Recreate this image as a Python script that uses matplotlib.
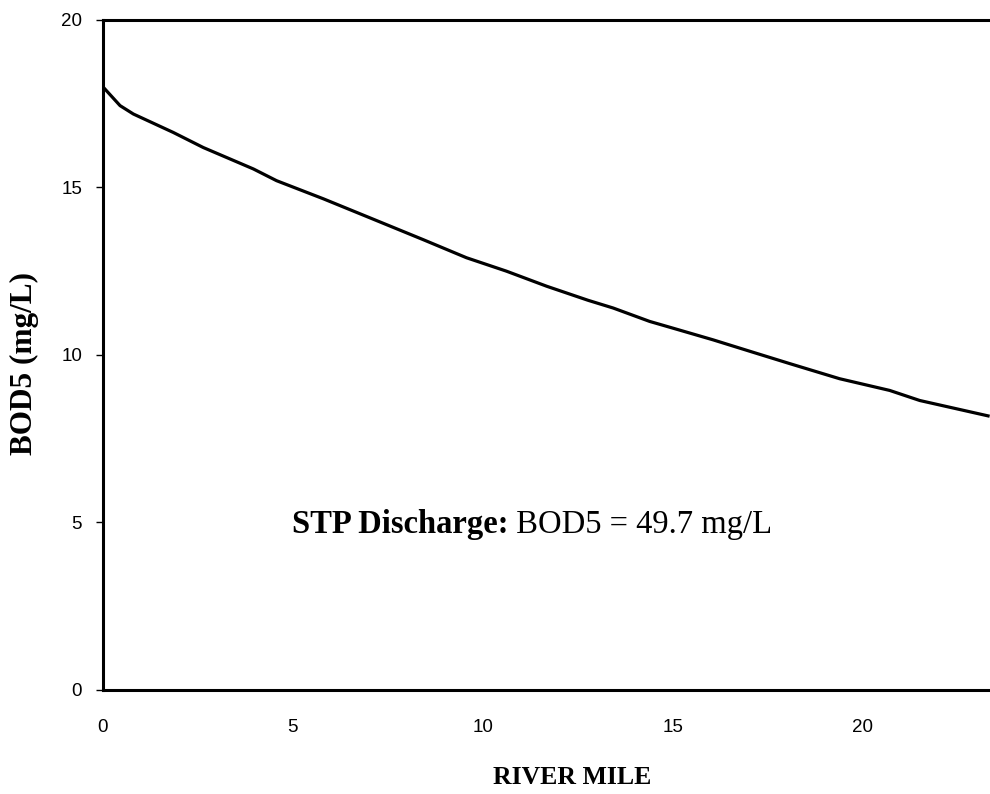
import matplotlib
matplotlib.use("Agg")
import matplotlib.pyplot as plt
from matplotlib import font_manager

river_mile = [0, 0.45, 0.8, 1.85, 2.64, 3.96, 4.57, 5.8, 7.03, 8.43, 9.57, 10.62,
              11.68, 12.77, 13.43, 14.39, 15.0, 16.06, 17.11, 18.08, 19.39, 20.71,
              21.5, 23.34]
bod5 = [18.0, 17.44, 17.19, 16.64, 16.19, 15.55, 15.2, 14.66, 14.09, 13.44, 12.9,
        12.5, 12.05, 11.63, 11.4, 11.0, 10.8, 10.45, 10.08, 9.74, 9.29, 8.94, 8.64,
        8.17]
x_ticks = [0, 5, 10, 15, 20]
y_ticks = [0, 5, 10, 15, 20]

names = {f.name for f in font_manager.fontManager.ttflist}
tick_family = "Liberation Sans Narrow" if "Liberation Sans Narrow" in names else "Liberation Sans"

fig = plt.figure(figsize=(9.9, 7.94), dpi=100)
ax = fig.add_axes([0.104, 0.131, 0.896, 0.844])

ax.plot(river_mile, bod5, color="black", linewidth=2.3, solid_capstyle="butt")

ax.set_xlim(0, 23.35)
ax.set_ylim(0, 20)
ax.set_xticks(x_ticks)
ax.set_yticks(y_ticks)
ax.set_xticklabels([str(v) for v in x_ticks], family=tick_family, fontsize=13.5)
ax.set_yticklabels([str(v) for v in y_ticks], family=tick_family, fontsize=13.5)
ax.tick_params(axis="x", length=0, pad=21)
ax.tick_params(axis="y", direction="out", length=5, width=1, pad=10)

for s in ["left", "bottom", "top"]:
    ax.spines[s].set_linewidth(2.2)
    ax.spines[s].set_color("black")
ax.spines["right"].set_visible(False)

ax.set_xlabel("RIVER MILE", family="Liberation Serif", fontweight="bold",
              fontsize=18.5)
ax.xaxis.set_label_coords(0.529, -0.113)
ax.set_ylabel("BOD5 (mg/L)", family="Liberation Serif", fontweight="bold",
              fontsize=22.5)
ax.yaxis.set_label_coords(-0.072, 0.4866)

t1 = ax.text(4.97, 4.69, "STP Discharge:", family="Liberation Serif",
             fontweight="bold", fontsize=23.5, va="baseline", ha="left")
ax.annotate(" BOD5 = 49.7 mg/L", xy=(1, 0), xycoords=t1, va="bottom", ha="left",
            family="Liberation Serif", fontsize=23.5)

fig.savefig("out.png", dpi=100, facecolor="white")
